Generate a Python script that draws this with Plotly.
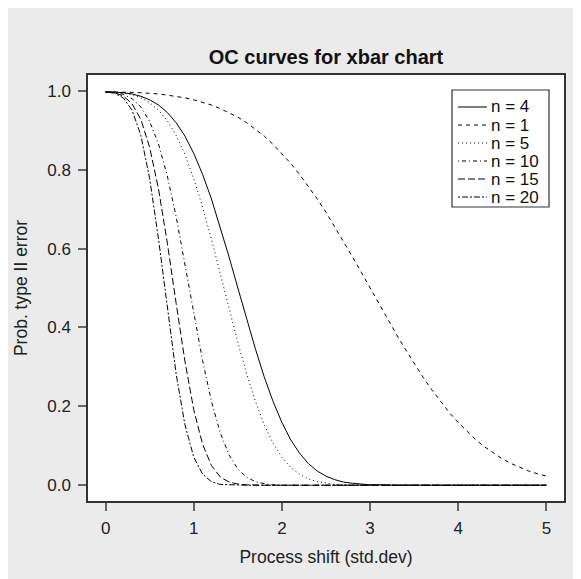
import plotly.graph_objects as go

# Process shift (std.dev) grid
shift = [0.0, 0.1, 0.2, 0.3, 0.4, 0.5, 0.6, 0.7, 0.8, 0.9,
         1.0, 1.1, 1.2, 1.3, 1.4, 1.5, 1.6, 1.7, 1.8, 1.9,
         2.0, 2.1, 2.2, 2.3, 2.4, 2.5, 2.6, 2.7, 2.8, 2.9,
         3.0, 3.1, 3.2, 3.3, 3.4, 3.5, 3.6, 3.7, 3.8, 3.9,
         4.0, 4.1, 4.2, 4.3, 4.4, 4.5, 4.6, 4.7, 4.8, 4.9, 5.0]

beta_n4 = [0.997, 0.997, 0.995, 0.992, 0.986, 0.977, 0.964, 0.945, 0.919, 0.885,
           0.841, 0.788, 0.726, 0.655, 0.579, 0.500, 0.421, 0.345, 0.274, 0.212,
           0.159, 0.115, 0.081, 0.055, 0.036, 0.023, 0.014, 0.008, 0.005, 0.003,
           0.001, 0.001, 0.0, 0.0, 0.0, 0.0, 0.0, 0.0, 0.0, 0.0,
           0.0, 0.0, 0.0, 0.0, 0.0, 0.0, 0.0, 0.0, 0.0, 0.0, 0.0]

beta_n1 = [0.997, 0.997, 0.997, 0.996, 0.995, 0.994, 0.992, 0.989, 0.986, 0.982,
           0.977, 0.971, 0.964, 0.955, 0.945, 0.933, 0.919, 0.903, 0.885, 0.864,
           0.841, 0.816, 0.788, 0.758, 0.726, 0.692, 0.655, 0.618, 0.579, 0.540,
           0.500, 0.460, 0.421, 0.382, 0.345, 0.309, 0.274, 0.242, 0.212, 0.184,
           0.159, 0.136, 0.115, 0.097, 0.081, 0.067, 0.055, 0.045, 0.036, 0.029, 0.023]

beta_n5 = [0.997, 0.997, 0.994, 0.990, 0.982, 0.970, 0.951, 0.924, 0.887, 0.838,
           0.777, 0.705, 0.624, 0.537, 0.448, 0.362, 0.282, 0.212, 0.153, 0.106,
           0.071, 0.045, 0.028, 0.016, 0.009, 0.005, 0.002, 0.001, 0.001, 0.0,
           0.0, 0.0, 0.0, 0.0, 0.0, 0.0, 0.0, 0.0, 0.0, 0.0,
           0.0, 0.0, 0.0, 0.0, 0.0, 0.0, 0.0, 0.0, 0.0, 0.0, 0.0]

beta_n10 = [0.997, 0.996, 0.991, 0.980, 0.959, 0.922, 0.865, 0.784, 0.681, 0.561,
            0.436, 0.316, 0.213, 0.133, 0.077, 0.041, 0.020, 0.009, 0.004, 0.001,
            0.0, 0.0, 0.0, 0.0, 0.0, 0.0, 0.0, 0.0, 0.0, 0.0,
            0.0, 0.0, 0.0, 0.0, 0.0, 0.0, 0.0, 0.0, 0.0, 0.0,
            0.0, 0.0, 0.0, 0.0, 0.0, 0.0, 0.0, 0.0, 0.0, 0.0, 0.0]

beta_n15 = [0.997, 0.995, 0.987, 0.967, 0.927, 0.856, 0.751, 0.614, 0.461, 0.314,
            0.191, 0.104, 0.050, 0.021, 0.008, 0.003, 0.001, 0.0, 0.0, 0.0,
            0.0, 0.0, 0.0, 0.0, 0.0, 0.0, 0.0, 0.0, 0.0, 0.0,
            0.0, 0.0, 0.0, 0.0, 0.0, 0.0, 0.0, 0.0, 0.0, 0.0,
            0.0, 0.0, 0.0, 0.0, 0.0, 0.0, 0.0, 0.0, 0.0, 0.0, 0.0]

beta_n20 = [0.997, 0.994, 0.982, 0.951, 0.887, 0.777, 0.624, 0.448, 0.282, 0.153,
            0.071, 0.028, 0.009, 0.002, 0.001, 0.0, 0.0, 0.0, 0.0, 0.0,
            0.0, 0.0, 0.0, 0.0, 0.0, 0.0, 0.0, 0.0, 0.0, 0.0,
            0.0, 0.0, 0.0, 0.0, 0.0, 0.0, 0.0, 0.0, 0.0, 0.0,
            0.0, 0.0, 0.0, 0.0, 0.0, 0.0, 0.0, 0.0, 0.0, 0.0, 0.0]

series_names = ["n = 4", "n = 1", "n = 5", "n = 10", "n = 15", "n = 20"]
series_values = [beta_n4, beta_n1, beta_n5, beta_n10, beta_n15, beta_n20]
series_dash = ["solid", "4px,4px", "1px,3px", "1px,3px,4px,3px", "7px,3px", "2px,2px,6px,2px"]

x_ticks = [0, 1, 2, 3, 4, 5]
y_ticks = [0.0, 0.2, 0.4, 0.6, 0.8, 1.0]

FONT = "Liberation Sans, Arial, Helvetica, sans-serif"

# figure / plot-area geometry (pixels)
FIG_W, FIG_H = 573, 571
M_L, M_R, M_T, M_B = 80, 17, 67, 78
PLOT_W = FIG_W - M_L - M_R
PLOT_H = FIG_H - M_T - M_B


def px_x(p):
    """pixel offset from the plot-area left edge -> paper fraction"""
    return p / PLOT_W


def px_y(p):
    """pixel offset from the plot-area top edge -> paper fraction"""
    return 1 - p / PLOT_H


fig = go.Figure()
for name, vals, dash in zip(series_names, series_values, series_dash):
    fig.add_trace(go.Scatter(
        x=shift, y=vals, mode="lines", name=name, showlegend=False,
        line=dict(color="black", width=1, dash=dash),
    ))

# R-style legend box (top right of the plot area)
LEG_L, LEG_R, LEG_T, LEG_B = 364, 461, 15, 132       # offsets within plot area
ROW0, ROW_H = 32, 18
SAMPLE_L, SAMPLE_R, TEXT_L = 370, 399, 401

shapes = [dict(type="rect", xref="paper", yref="paper",
               x0=px_x(LEG_L), x1=px_x(LEG_R), y0=px_y(LEG_B), y1=px_y(LEG_T),
               line=dict(color="#333333", width=1.2), fillcolor="white", layer="above")]
annotations = []
for i, (name, dash) in enumerate(zip(series_names, series_dash)):
    yy = px_y(ROW0 + ROW_H * i)
    shapes.append(dict(type="line", xref="paper", yref="paper",
                       x0=px_x(SAMPLE_L), x1=px_x(SAMPLE_R), y0=yy, y1=yy,
                       line=dict(color="black", width=1, dash=dash), layer="above"))
    annotations.append(dict(text=name, xref="paper", yref="paper",
                            x=px_x(TEXT_L), y=yy, xanchor="left", yanchor="middle",
                            showarrow=False,
                            font=dict(size=17, family=FONT, color="#111111")))

axis_common = dict(
    showgrid=False, zeroline=False,
    showline=True, mirror=True, linecolor="#333333", linewidth=1.5,
    ticks="outside", ticklen=8, tickwidth=1.5, tickcolor="#666666",
    tickfont=dict(size=17, color="#222222", family=FONT),
)

fig.update_layout(
    width=FIG_W, height=FIG_H, autosize=False,
    margin=dict(l=M_L, r=M_R, t=M_T, b=M_B, pad=0),
    paper_bgcolor="#ebebeb", plot_bgcolor="white",
    font=dict(family=FONT, color="#222222"),
    title=dict(text="<b>OC curves for xbar chart</b>", x=0.5, xref="paper", xanchor="center",
               y=0.915, yref="container", yanchor="middle",
               font=dict(size=20, color="#111111", family=FONT)),
    xaxis=dict(range=[-0.2, 5.2], tickvals=x_ticks, ticklabelstandoff=3,
               title=dict(text="Process shift (std.dev)", font=dict(size=17.5, family=FONT), standoff=14),
               **axis_common),
    yaxis=dict(range=[-0.04, 1.04], tickvals=y_ticks, tickformat=".1f", ticklabelstandoff=4,
               title=dict(text="Prob. type II error", font=dict(size=17.5, family=FONT), standoff=15),
               **axis_common),
    showlegend=False,
    shapes=shapes,
    annotations=annotations,
)

fig.write_html("out.html")
